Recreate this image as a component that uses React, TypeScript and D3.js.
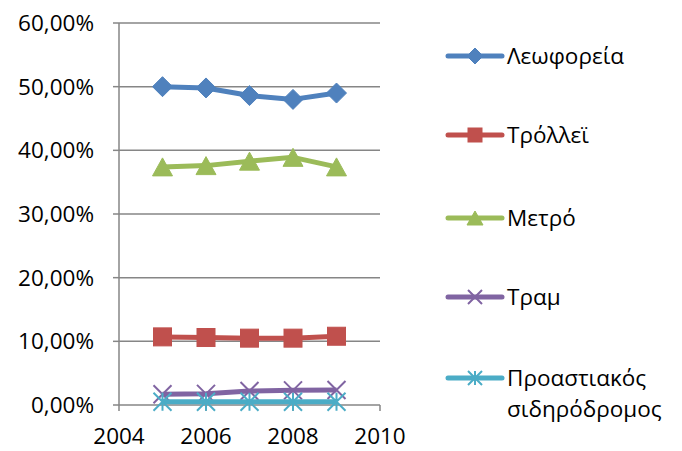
import React from "react";
import * as d3 from "d3";

const years = [2005, 2006, 2007, 2008, 2009];
const seriesNames = ["Λεωφορεία", "Τρόλλεϊ", "Μετρό", "Τραμ", "Προαστιακός σιδηρόδρομος"];
const bus = [0.5, 0.498, 0.486, 0.48, 0.49];
const trolley = [0.107, 0.106, 0.105, 0.105, 0.108];
const metro = [0.374, 0.376, 0.383, 0.389, 0.374];
const tram = [0.017, 0.0175, 0.022, 0.023, 0.0235];
const suburban = [0.005, 0.005, 0.005, 0.005, 0.005];
const yTicks = [0, 0.1, 0.2, 0.3, 0.4, 0.5, 0.6];
const xTicks = [2004, 2006, 2008, 2010];

const colors = ["#4F81BD", "#C0504D", "#9BBB59", "#8064A2", "#4BACC6"];
const markers = ["diamond", "square", "triangle", "x", "star"];
const allValues = [bus, trolley, metro, tram, suburban];

const W = 682;
const H = 451;
const font = "'Open Sans', sans-serif";
const fs = 22.5;

function Marker({ kind, cx, cy, color, s = 9 }: { kind: string; cx: number; cy: number; color: string; s?: number }) {
  if (kind === "diamond")
    return <path d={`M${cx},${cy - s - 1}L${cx + s + 1},${cy}L${cx},${cy + s + 1}L${cx - s - 1},${cy}Z`} fill={color} stroke={color} />;
  if (kind === "square")
    return <rect x={cx - s} y={cy - s} width={2 * s} height={2 * s} fill={color} stroke={color} />;
  if (kind === "triangle")
    return <path d={`M${cx},${cy - s}L${cx + s + 1},${cy + s}L${cx - s - 1},${cy + s}Z`} fill={color} stroke={color} />;
  if (kind === "x")
    return (
      <path d={`M${cx - s},${cy - s}L${cx + s},${cy + s}M${cx - s},${cy + s}L${cx + s},${cy - s}`} stroke={color} strokeWidth={2} fill="none" />
    );
  return (
    <path
      d={`M${cx - s},${cy - s}L${cx + s},${cy + s}M${cx - s},${cy + s}L${cx + s},${cy - s}M${cx},${cy - s}L${cx},${cy + s}`}
      stroke={color}
      strokeWidth={2}
      fill="none"
    />
  );
}

export default function App() {
  const x = d3.scaleLinear().domain([2004, 2010]).range([119, 380]);
  const y = d3.scaleLinear().domain([0, 0.6]).range([405, 23]);
  const line = d3
    .line<number>()
    .x((_, i) => x(years[i]))
    .y((d) => y(d));
  const fmt = (v: number) => (v * 100).toFixed(2).replace(".", ",") + "%";

  const legendY = [56, 135, 218, 297, 378];

  return (
    <svg width={W} height={H} style={{ position: "absolute", left: 0, top: 0, background: "#fff" }}>
      {yTicks.map((t) => (
        <g key={t}>
          {t > 0 && <line x1={x(2004)} x2={x(2010)} y1={y(t)} y2={y(t)} stroke="#868686" strokeWidth={1.5} />}
          <line x1={x(2004) - 6} x2={x(2004)} y1={y(t)} y2={y(t)} stroke="#868686" strokeWidth={1.5} />
          <text x={94} y={y(t)} dy="0.35em" textAnchor="end" fontFamily={font} fontSize={fs} fill="#000">
            {fmt(t)}
          </text>
        </g>
      ))}
      <line x1={x(2004)} x2={x(2004)} y1={y(0.6)} y2={y(0)} stroke="#868686" strokeWidth={1.5} />
      <line x1={x(2004)} x2={x(2010)} y1={y(0)} y2={y(0)} stroke="#868686" strokeWidth={1.5} />
      {xTicks.map((t) => (
        <g key={t}>
          <line x1={x(t)} x2={x(t)} y1={y(0)} y2={y(0) + 6} stroke="#868686" strokeWidth={1.5} />
          <text x={x(t)} y={444} textAnchor="middle" fontFamily={font} fontSize={fs} fill="#000">
            {t}
          </text>
        </g>
      ))}
      {allValues.map((vals, si) => (
        <g key={si}>
          <path d={line(vals) || ""} fill="none" stroke={colors[si]} strokeWidth={5} strokeLinejoin="round" />
          {vals.map((v, i) => (
            <Marker key={i} kind={markers[si]} cx={x(years[i])} cy={y(v)} color={colors[si]} />
          ))}
        </g>
      ))}
      {seriesNames.map((name, si) => {
        const ly = legendY[si];
        const words = si === 4 ? ["Προαστιακός", "σιδηρόδρομος"] : [name];
        return (
          <g key={name}>
            <line x1={448} x2={502} y1={ly} y2={ly} stroke={colors[si]} strokeWidth={5} strokeLinecap="round" />
            <Marker kind={markers[si]} cx={475} cy={ly} color={colors[si]} s={7} />
            {words.map((w, wi) => (
              <text key={w} x={507} y={ly + wi * 31} dy="0.35em" fontFamily={font} fontSize={fs} fill="#000">
                {w}
              </text>
            ))}
          </g>
        );
      })}
    </svg>
  );
}
